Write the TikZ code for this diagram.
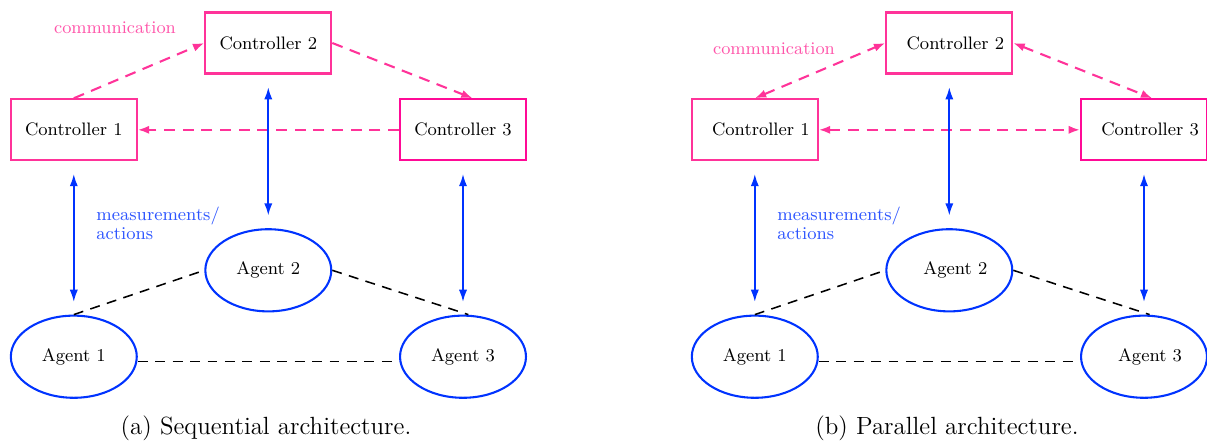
\documentclass[tikz,border=0pt]{standalone}
\usetikzlibrary{arrows.meta,calc,shapes.geometric}
\definecolor{pinkA}{RGB}{255,51,153}
\definecolor{pinkB}{RGB}{255,10,150}
\definecolor{pinkT}{RGB}{255,85,170}
\definecolor{blueA}{RGB}{0,51,255}
\definecolor{blueT}{RGB}{45,85,255}
\tikzset{
  ctrl/.style={draw=pinkA,line width=1pt,rectangle,minimum width=60.7pt,minimum height=29.4pt,inner sep=0pt,font=\fontsize{8.7}{10}\selectfont},
  ctrlthree/.style={ctrl,draw=pinkB},
  agent/.style={draw=blueA,line width=1pt,ellipse,minimum width=60.7pt,minimum height=39.6pt,inner sep=0pt,font=\fontsize{8.7}{10}\selectfont},
  comm/.style={pinkA,line width=1pt,dash pattern=on 5.3pt off 3.7pt},
  commtip/.style={comm,-{Latex[length=5.5pt,width=4pt]}},
  commboth/.style={comm,{Latex[length=5.5pt,width=4pt]}-{Latex[length=5.5pt,width=4pt]}},
  meas/.style={blueA,line width=1pt,{Latex[length=6pt,width=4pt]}-{Latex[length=6pt,width=4pt]},shorten <=6pt,shorten >=6pt},
  link/.style={black,line width=0.75pt,dash pattern=on 4.8pt off 3.6pt},
  commlabel/.style={text=pinkT,font=\fontsize{8.6}{9}\selectfont,inner sep=0pt},
  measlabel/.style={text=blueT,font=\fontsize{8.7}{7.7}\selectfont,align=left,inner sep=0pt,anchor=north west},
  caption/.style={font=\large,inner sep=0pt}
}
\newcommand{\tsh}{\hspace*{5.8pt}}
\begin{document}
\begin{tikzpicture}[x=0.482pt,y=-0.482pt]
\useasboundingbox (0,0) rectangle (1207,442);
% ---------- (a) Sequential ----------
\node[ctrl] (c1) at (73.8,129.8) {Controller 1};
\node[ctrl] (c2) at (268.3,43) {Controller 2};
\node[ctrlthree] (c3) at (463,129.8) {Controller 3};
\node[agent] (a1) at (73.8,356.7) {Agent 1};
\node[agent] (a2) at (268.3,270.3) {Agent 2};
\node[agent] (a3) at (463,356.7) {Agent 3};
\node[commlabel] (lc) at (115,27.3) {communication};
\node[measlabel] (lm) at (96,206.7) {measurements/\\actions};
\node[caption] (capa) at (266,428.3) {(a) Sequential architecture.};
\draw[commtip] (c1.north) -- (c2.west);
\draw[commtip] (c2.east) -- ($(c3.north)+(9.7,0)$);
\draw[commtip] (c3.west) -- (c1.east);
\draw[meas] (c1.south) -- (a1.north);
\draw[meas] (c2.south) -- (a2.north);
\draw[meas] (c3.south) -- (a3.north);
\draw[link] (a1.north) -- (a2.west);
\draw[link] (a2.east) -- ($(a3.north)+(5.3,0)$);
\draw[link] ($(a1.east)+(0,5)$) -- ($(a3.west)+(0,5)$);
% ---------- (b) Parallel ----------
\node[ctrl] (rc1) at (754.8,129.8) {\tsh Controller 1};
\node[ctrl] (rc2) at (949.3,43) {\tsh Controller 2};
\node[ctrlthree] (rc3) at (1144,129.8) {\tsh Controller 3};
\node[agent] (ra1) at (754.8,356.7) {Agent 1};
\node[agent] (ra2) at (949.3,270.3) {\tsh Agent 2};
\node[agent] (ra3) at (1144,356.7) {\tsh Agent 3};
\node[commlabel] (rlc) at (774,48.3) {communication};
\node[measlabel] (rlm) at (777,206.7) {measurements/\\actions};
\node[caption] (capb) at (947,428.3) {(b) Parallel architecture.};
\draw[commboth] (rc1.north) -- (rc2.west);
\draw[commboth] (rc2.east) -- ($(rc3.north)+(8.3,0)$);
\draw[commboth] (rc1.east) -- (rc3.west);
\draw[meas] (rc1.south) -- (ra1.north);
\draw[meas] (rc2.south) -- (ra2.north);
\draw[meas] (rc3.south) -- (ra3.north);
\draw[link] (ra1.north) -- (ra2.west);
\draw[link] (ra2.east) -- ($(ra3.north)+(5.6,0)$);
\draw[link] ($(ra1.east)+(0,5)$) -- ($(ra3.west)+(0,5)$);
\end{tikzpicture}
\end{document}
